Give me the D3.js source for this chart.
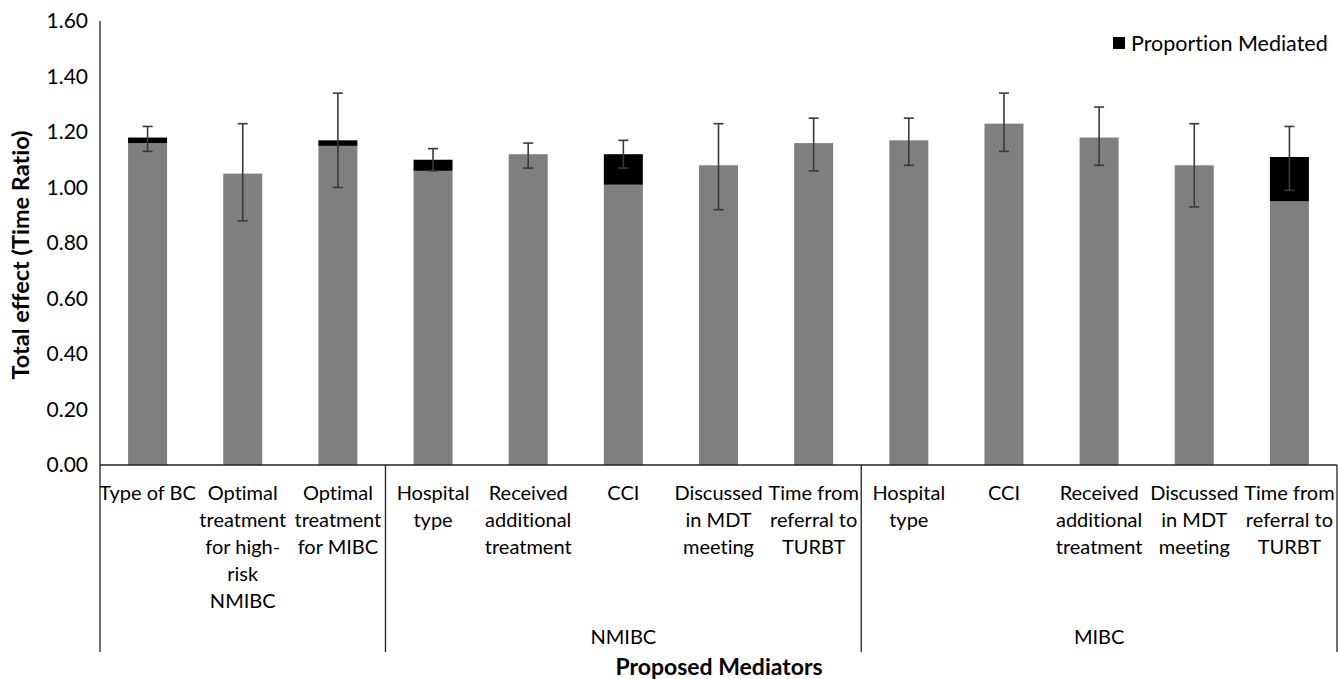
<!DOCTYPE html>
<html>
<head>
<meta charset="utf-8">
<script src="https://cdn.jsdelivr.net/npm/d3@7"></script>
<style>
  html, body { margin: 0; padding: 0; background: #fff; }
  svg { display: block; font-family: Lato, "Open Sans", sans-serif; }
  svg text { font-variant-ligatures: none; font-feature-settings: "liga" 0, "dlig" 0; }
</style>
</head>
<body>
<svg id="chart" width="1338" height="679"></svg>
<script>
// ---- data ----
const categories = [
  ["Type of BC"],
  ["Optimal", "treatment", "for high-", "risk", "NMIBC"],
  ["Optimal", "treatment", "for MIBC"],
  ["Hospital", "type"],
  ["Received", "additional", "treatment"],
  ["CCI"],
  ["Discussed", "in MDT", "meeting"],
  ["Time from", "referral to", "TURBT"],
  ["Hospital", "type"],
  ["CCI"],
  ["Received", "additional", "treatment"],
  ["Discussed", "in MDT", "meeting"],
  ["Time from", "referral to", "TURBT"]
];
const groupNames = ["", "NMIBC", "MIBC"];
const groupSizes = [3, 5, 5];
const directEffect = [1.16, 1.05, 1.15, 1.06, 1.12, 1.01, 1.08, 1.16, 1.17, 1.23, 1.18, 1.08, 0.95];
const proportionMediated = [0.02, 0.00, 0.02, 0.04, 0.00, 0.11, 0.00, 0.00, 0.00, 0.00, 0.00, 0.00, 0.16];
const ciLower = [1.13, 0.88, 1.00, 1.06, 1.07, 1.07, 0.92, 1.06, 1.08, 1.13, 1.08, 0.93, 0.99];
const ciUpper = [1.22, 1.23, 1.34, 1.14, 1.16, 1.17, 1.23, 1.25, 1.25, 1.34, 1.29, 1.23, 1.22];
const yTicks = [0, 0.2, 0.4, 0.6, 0.8, 1.0, 1.2, 1.4, 1.6];

// ---- layout ----
const svg = d3.select("#chart");
const leftX = 100, rightX = 1337, topY = 21, axisY = 465, bottomLine = 652;
const idx = d3.range(categories.length);

const x = d3.scaleBand().domain(idx).range([leftX, rightX]).paddingInner(0.59).paddingOuter(0.295);
const y = d3.scaleLinear().domain([0, 1.6]).range([axisY, topY]);

// bars: direct (gray)
svg.append("g").selectAll("rect").data(idx).join("rect")
  .attr("x", i => x(i)).attr("width", x.bandwidth())
  .attr("y", i => y(directEffect[i]))
  .attr("height", i => y(0) - y(directEffect[i]))
  .attr("fill", "#7f7f7f");

// bars: proportion mediated (black, stacked)
svg.append("g").selectAll("rect").data(idx.filter(i => proportionMediated[i] > 0)).join("rect")
  .attr("x", i => x(i)).attr("width", x.bandwidth())
  .attr("y", i => y(directEffect[i] + proportionMediated[i]))
  .attr("height", i => y(directEffect[i]) - y(directEffect[i] + proportionMediated[i]))
  .attr("fill", "#000");

// error bars
const eb = svg.append("g").attr("stroke", "#3a3a3a").attr("stroke-width", 1.6);
const cx = i => x(i) + x.bandwidth() / 2;
eb.selectAll("line.v").data(idx).join("line").attr("class", "v")
  .attr("x1", cx).attr("x2", cx)
  .attr("y1", i => y(ciLower[i])).attr("y2", i => y(ciUpper[i]));
eb.selectAll("line.t").data(idx).join("line").attr("class", "t")
  .attr("x1", i => cx(i) - 5).attr("x2", i => cx(i) + 5)
  .attr("y1", i => y(ciUpper[i])).attr("y2", i => y(ciUpper[i]));
eb.selectAll("line.b").data(idx).join("line").attr("class", "b")
  .attr("x1", i => cx(i) - 5).attr("x2", i => cx(i) + 5)
  .attr("y1", i => y(ciLower[i])).attr("y2", i => y(ciLower[i]));

// y axis
const yAxis = svg.append("g").attr("transform", `translate(${leftX},0)`)
  .call(d3.axisLeft(y).tickValues(yTicks).tickFormat(d3.format(".2f")).tickSize(0).tickPadding(12));
yAxis.select(".domain").remove();
yAxis.selectAll("text").attr("font-size", 21).attr("fill", "#000").attr("font-family", "Lato, sans-serif");

// x axis
const xAxis = svg.append("g").attr("transform", `translate(0,${axisY})`)
  .call(d3.axisBottom(x).tickSize(0).tickFormat(""));
xAxis.select(".domain").remove();
xAxis.selectAll(".tick").each(function(i) {
  const t = d3.select(this).append("text")
    .attr("fill", "#000").attr("font-size", 20).attr("text-anchor", "middle")
    .attr("font-family", "Lato, sans-serif");
  categories[i].forEach((line, k) => {
    t.append("tspan").attr("x", 0).attr("y", 35 + k * 27).text(line);
  });
});

// axis lines
const lines = svg.append("g").attr("stroke", "#222").attr("stroke-width", 1.3);
lines.append("line").attr("x1", leftX).attr("x2", leftX).attr("y1", topY).attr("y2", bottomLine);
lines.append("line").attr("x1", leftX).attr("x2", rightX).attr("y1", axisY).attr("y2", axisY);

// group separators and labels
let start = 0;
const step = x.step();
groupSizes.forEach((n, g) => {
  const x0 = leftX + start * step, x1 = leftX + (start + n) * step;
  lines.append("line").attr("x1", x1).attr("x2", x1).attr("y1", axisY).attr("y2", bottomLine);
  if (groupNames[g]) {
    svg.append("text").attr("x", (x0 + x1) / 2).attr("y", 644)
      .attr("text-anchor", "middle").attr("font-size", 20).attr("fill", "#000")
      .text(groupNames[g]);
  }
  start += n;
});

// axis titles
svg.append("text").attr("x", 719).attr("y", 675).attr("text-anchor", "middle")
  .attr("font-size", 23).attr("font-weight", "bold").attr("fill", "#000")
  .text("Proposed Mediators");
svg.append("text").attr("transform", "translate(29,255) rotate(-90)")
  .attr("text-anchor", "middle").attr("font-size", 23.5).attr("font-weight", "bold").attr("fill", "#000")
  .text("Total effect (Time Ratio)");

// legend
const lg = svg.append("g");
lg.append("rect").attr("x", 1113).attr("y", 37).attr("width", 12).attr("height", 12).attr("fill", "#000");
lg.append("text").attr("x", 1131).attr("y", 51).attr("font-size", 21.5).attr("fill", "#000")
  .text("Proportion Mediated");
</script>
</body>
</html>
